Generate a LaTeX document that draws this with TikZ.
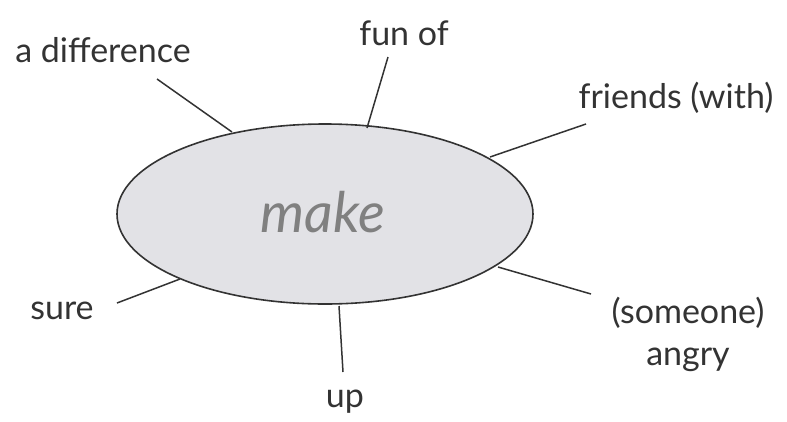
\documentclass[tikz,border=0pt]{standalone}
\usepackage{fontspec}
\setmainfont{Lato}
\usetikzlibrary{shapes.geometric}
\definecolor{efill}{HTML}{E2E2E6}
\begin{document}
\begin{tikzpicture}[x=1pt,y=-1pt,
  lbl/.style={text=black!80, font=\fontsize{34}{42}\selectfont, inner sep=0pt, align=center},
  spoke/.style={draw=black!80, line width=1.5pt}]
\useasboundingbox (0,0) rectangle (787,421);
\node[ellipse, draw=black!80, fill=efill, line width=1.6pt, minimum width=416, minimum height=180, inner sep=0pt] (e) at (325,214) {};
\node[text=black!50, font=\fontsize{56}{60}\selectfont\itshape] (mk) at (323,212) {make};
\node[lbl] (ad) at (103,50) {a difference};
\node[lbl] (fo) at (404,33) {fun of};
\node[lbl] (fr) at (676,98) {friends (with)};
\node[lbl] (so) at (688,334) {(someone)\\angry};
\node[lbl] (su) at (62,311) {sure};
\node[lbl] (up) at (345,402) {up};
\coordinate (a1) at (157,79); \coordinate (a2) at (232,132);
\coordinate (f1) at (388,57); \coordinate (f2) at (367,128);
\coordinate (r1) at (586,124); \coordinate (r2) at (490,157);
\coordinate (s1) at (498,267); \coordinate (s2) at (591,294);
\coordinate (u1) at (117,303); \coordinate (u2) at (180,279);
\coordinate (p1) at (339,306); \coordinate (p2) at (343,372);
\draw[spoke] (a1) -- (a2);
\draw[spoke] (f1) -- (f2);
\draw[spoke] (r1) -- (r2);
\draw[spoke] (s1) -- (s2);
\draw[spoke] (u1) -- (u2);
\draw[spoke] (p1) -- (p2);
\end{tikzpicture}
\end{document}
